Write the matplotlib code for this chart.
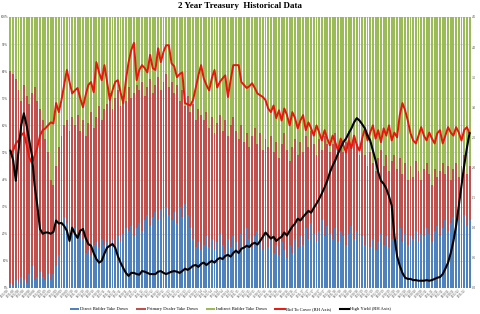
import numpy as np
import pandas as pd
import matplotlib
matplotlib.use('Agg')
import matplotlib.pyplot as plt
from matplotlib.ticker import FuncFormatter

# monthly 2-year auctions, Jan 2008 .. Apr 2022
dates = pd.date_range("2008-01-31", periods=172, freq="ME")
labels = [d.strftime("%m/%d/%y") for d in dates]

direct = [2, 1, 3, 2, 4, 3, 2, 5, 8, 3, 4, 6,
          4, 3, 5, 3, 5, 8, 12, 22, 26, 24, 21, 20,
          22, 19, 21, 18, 13, 14, 12, 16, 17, 15, 18, 16,
          17, 15, 18, 16, 19, 17, 20, 22, 21, 23, 19, 22,
          24, 21, 25, 27, 23, 26, 28, 25, 29, 26, 30, 27,
          25, 28, 24, 30, 26, 31, 27, 22, 18, 15, 17, 14,
          16, 19, 15, 18, 14, 17, 20, 16, 13, 18, 15, 19,
          17, 14, 20, 16, 22, 18, 15, 19, 21, 17, 14, 18,
          15, 18, 13, 16, 12, 17, 14, 11, 16, 13, 18, 15,
          19, 16, 22, 18, 24, 20, 17, 21, 25, 19, 23, 20,
          18, 22, 17, 21, 19, 16, 20, 23, 18, 21, 17, 19,
          16, 19, 15, 18, 14, 17, 20, 16, 19, 15, 18, 21,
          18, 22, 17, 20, 16, 19, 18, 21, 17, 20, 19, 22,
          20, 17, 21, 23, 19, 22, 25, 21, 24, 26, 22, 25,
          24, 27, 23, 25]
dealer = [78, 78, 74, 71, 65, 72, 69, 63, 64, 71, 65, 60,
          58, 52, 45, 37, 33, 37, 40, 34, 34, 38, 37, 43,
          38, 45, 37, 44, 43, 47, 53, 43, 46, 52, 44, 50,
          51, 57, 48, 54, 54, 50, 51, 47, 53, 47, 53, 53,
          49, 55, 46, 47, 54, 46, 47, 53, 44, 50, 49, 47,
          51, 44, 51, 39, 47, 36, 44, 43, 50, 47, 49, 50,
          46, 46, 44, 45, 43, 44, 44, 42, 49, 38, 45, 44,
          41, 41, 40, 38, 35, 34, 41, 40, 32, 40, 37, 37,
          37, 38, 37, 38, 36, 36, 43, 40, 31, 39, 37, 34,
          35, 34, 34, 34, 34, 33, 32, 34, 26, 37, 30, 30,
          35, 35, 34, 34, 31, 38, 38, 29, 38, 32, 32, 36,
          33, 26, 35, 28, 29, 31, 31, 29, 30, 28, 29, 28,
          26, 26, 25, 26, 24, 26, 23, 26, 26, 20, 25, 24,
          22, 21, 23, 18, 24, 24, 17, 24, 16, 18, 24, 16,
          21, 22, 19, 20]
indirect = [20, 21, 23, 27, 31, 25, 29, 32, 28, 26, 31, 34,
            38, 45, 50, 60, 62, 55, 48, 44, 40, 38, 42, 37,
            40, 36, 42, 38, 44, 39, 35, 41, 37, 33, 38, 34,
            32, 28, 34, 30, 27, 33, 29, 31, 26, 30, 28, 25,
            27, 24, 29, 26, 23, 28, 25, 22, 27, 24, 21, 26,
            24, 28, 25, 31, 27, 33, 29, 35, 32, 38, 34, 36,
            38, 35, 41, 37, 43, 39, 36, 42, 38, 44, 40, 37,
            42, 45, 40, 46, 43, 48, 44, 41, 47, 43, 49, 45,
            48, 44, 50, 46, 52, 47, 43, 49, 53, 48, 45, 51,
            46, 50, 44, 48, 42, 47, 51, 45, 49, 44, 47, 50,
            47, 43, 49, 45, 50, 46, 42, 48, 44, 47, 51, 45,
            51, 55, 50, 54, 57, 52, 49, 55, 51, 57, 53, 51,
            56, 52, 58, 54, 60, 55, 59, 53, 57, 60, 56, 54,
            58, 62, 56, 59, 57, 54, 58, 55, 60, 56, 54, 59,
            55, 51, 58, 55]

bid_to_cover = [2.23, 2.28, 2.40, 2.45, 2.53, 2.58, 2.37, 2.17, 2.07, 2.20, 2.33, 2.53,
                2.62, 2.65, 2.70, 2.75, 2.73, 3.07, 2.92, 3.12, 3.37, 3.62, 3.42, 3.23,
                3.28, 3.32, 3.15, 3.00, 3.20, 3.37, 3.42, 3.25, 3.75, 3.58, 3.45, 3.70,
                3.42, 3.12, 3.28, 3.42, 3.45, 3.25, 3.07, 3.45, 3.75, 3.95, 4.07, 3.45,
                3.62, 3.70, 3.65, 3.58, 3.87, 3.65, 3.62, 3.98, 3.75, 3.92, 4.03, 4.03,
                3.73, 3.68, 3.50, 3.55, 3.58, 3.07, 3.05, 3.03, 3.12, 3.32, 3.53, 3.70,
                3.48, 3.37, 3.28, 3.48, 3.62, 3.33, 3.42, 3.48, 3.53, 3.17, 3.45, 3.70,
                3.70, 3.70, 3.42, 3.37, 3.32, 3.35, 3.40, 3.32, 3.23, 3.20, 3.17, 3.12,
                2.98, 2.92, 3.03, 2.82, 2.95, 2.78, 2.98, 2.87, 2.70, 2.92, 2.82, 2.65,
                2.78, 2.87, 2.62, 2.75, 2.65, 2.53, 2.70, 2.58, 2.45, 2.62, 2.48, 2.37,
                2.53, 2.42, 2.28, 2.48, 2.37, 2.25, 2.45, 2.32, 2.53, 2.37, 2.28, 2.48,
                2.65, 2.45, 2.58, 2.70, 2.48, 2.62, 2.42, 2.65, 2.53, 2.70, 2.45, 2.58,
                2.50, 2.87, 3.07, 2.95, 2.78, 2.57, 2.45, 2.40, 2.53, 2.67, 2.53, 2.45,
                2.58, 2.48, 2.40, 2.57, 2.62, 2.40, 2.53, 2.67, 2.58, 2.53, 2.67, 2.58,
                2.45, 2.62, 2.67, 2.57]
high_yield = [2.28, 2.12, 1.78, 2.28, 2.70, 2.90, 2.70, 2.45, 2.20, 1.70, 1.37, 0.98,
              0.90, 0.92, 0.92, 0.90, 0.93, 1.12, 1.07, 1.08, 1.03, 0.95, 0.78, 1.00,
              0.90, 0.83, 0.95, 0.98, 0.83, 0.73, 0.70, 0.58, 0.48, 0.42, 0.45, 0.57,
              0.67, 0.70, 0.73, 0.67, 0.53, 0.42, 0.33, 0.25, 0.20, 0.25, 0.25, 0.23,
              0.22, 0.28, 0.27, 0.25, 0.23, 0.23, 0.23, 0.27, 0.28, 0.25, 0.23, 0.25,
              0.27, 0.28, 0.27, 0.25, 0.28, 0.32, 0.30, 0.33, 0.37, 0.38, 0.35, 0.40,
              0.42, 0.38, 0.42, 0.45, 0.42, 0.47, 0.50, 0.48, 0.53, 0.55, 0.52, 0.58,
              0.62, 0.58, 0.65, 0.67, 0.70, 0.68, 0.73, 0.75, 0.72, 0.78, 0.85, 0.92,
              0.87, 0.82, 0.85, 0.78, 0.82, 0.85, 0.92, 0.87, 0.95, 1.02, 1.07, 1.15,
              1.12, 1.18, 1.23, 1.28, 1.25, 1.33, 1.40, 1.48, 1.57, 1.67, 1.78, 1.92,
              2.03, 2.12, 2.23, 2.33, 2.42, 2.48, 2.57, 2.65, 2.75, 2.82, 2.78, 2.72,
              2.65, 2.53, 2.45, 2.28, 2.12, 1.92, 1.78, 1.73, 1.65, 1.52, 1.37, 0.87,
              0.53, 0.37, 0.25, 0.17, 0.15, 0.15, 0.13, 0.13, 0.12, 0.12, 0.12, 0.13,
              0.12, 0.13, 0.15, 0.17, 0.18, 0.23, 0.32, 0.42, 0.58, 0.78, 1.03, 1.37,
              1.70, 2.03, 2.32, 2.57]

x = np.arange(len(dates))
direct = np.array(direct, float)
dealer = np.array(dealer, float)
indirect = np.array(indirect, float)
total = direct + dealer + indirect
d_pct = direct / total * 100
p_pct = dealer / total * 100
i_pct = indirect / total * 100

plt.rcParams['font.family'] = ['Liberation Serif', 'DejaVu Serif']

fig = plt.figure(figsize=(4.8, 3.14), dpi=100)
ax = fig.add_axes([0.019, 0.083, 0.962, 0.863])
ax.set_axisbelow(True)
ax.grid(axis='y', color='#d0d0d0', lw=0.5)

w = 0.72
ax.bar(x, d_pct, w, color='#4F81BD', label='Direct Bidder Take Down')
ax.bar(x, p_pct, w, bottom=d_pct, color='#C0504D', label='Primary Dealer Take Down')
ax.bar(x, i_pct, w, bottom=d_pct + p_pct, color='#9BBB59', label='Indirect Bidder Take Down')
ax.set_ylim(0, 100)
ax.set_xlim(-0.5, len(x) - 0.5)
ax.set_yticks(np.arange(0, 101, 10))
ax.yaxis.set_major_formatter(FuncFormatter(lambda v, _: f"{v:.0f}%"))
ax.set_xticks(x[::2])
ax.set_xticklabels(labels[::2], rotation=45, ha='right', fontsize=2.2, color='#404040')
ax.tick_params(axis='y', labelsize=2.3, colors='#404040', length=0, pad=0.6)
ax.tick_params(axis='x', length=0, pad=0.5)
for s in ax.spines.values():
    s.set_visible(False)

ax2 = ax.twinx()
ax2.plot(x, bid_to_cover, color='#E8160C', lw=1.4, label='Bid To Cover (RH Axis)')
ax2.plot(x, high_yield, color='black', lw=1.5, label='High Yield (RH Axis)')
ax2.set_ylim(0, 4.5)
ax2.set_yticks(np.arange(0, 4.51, 0.5))
ax2.tick_params(axis='y', labelsize=2.3, colors='#404040', length=0, pad=0.6)
for s in ax2.spines.values():
    s.set_visible(False)

fig.suptitle("2 Year Treasury  Historical Data", y=0.995, fontsize=6.5, fontweight='bold')

h1, l1 = ax.get_legend_handles_labels()
h2, l2 = ax2.get_legend_handles_labels()
fig.legend(h1 + h2, l1 + l2, loc='lower center', bbox_to_anchor=(0.48, -0.005), ncol=5,
           fontsize=3.3, frameon=False, handlelength=2.0, handleheight=0.5,
           columnspacing=1.8, handletextpad=0.3)

fig.savefig("out.png", dpi=100)
